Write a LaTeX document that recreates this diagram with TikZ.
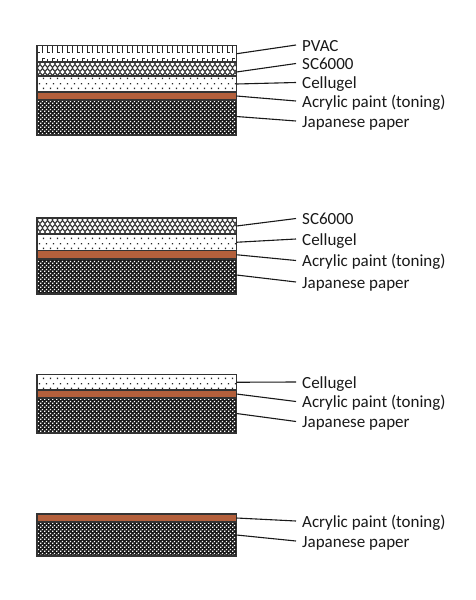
\documentclass[tikz,border=0pt]{standalone}
\usepackage{fontspec}
\setmainfont{Carlito}
\usetikzlibrary{patterns}

\pgfdeclarepatternformonly{pvacpat}{\pgfpoint{-0.5pt}{-0.5pt}}{\pgfpoint{10.5pt}{16.5pt}}{\pgfpoint{10pt}{16pt}}{%
  \pgfsetlinewidth{1pt}%
  \pgfpathmoveto{\pgfpoint{2pt}{3pt}}\pgfpathlineto{\pgfpoint{2pt}{13pt}}\pgfpathlineto{\pgfpoint{4.5pt}{13pt}}%
  \pgfpathmoveto{\pgfpoint{7pt}{13pt}}\pgfpathlineto{\pgfpoint{7pt}{3pt}}\pgfpathlineto{\pgfpoint{9.5pt}{3pt}}%
  \pgfusepath{stroke}}

\pgfdeclarepatternformonly{scpat}{\pgfpoint{-0.5pt}{-0.5pt}}{\pgfpoint{10.5pt}{8.5pt}}{\pgfpoint{10pt}{8pt}}{%
  \pgfsetlinewidth{1.1pt}%
  \pgfpathmoveto{\pgfpoint{0pt}{0.5pt}}\pgfpathlineto{\pgfpoint{2.5pt}{3.5pt}}\pgfpathlineto{\pgfpoint{5pt}{0.5pt}}\pgfpathlineto{\pgfpoint{7.5pt}{3.5pt}}\pgfpathlineto{\pgfpoint{10pt}{0.5pt}}%
  \pgfpathmoveto{\pgfpoint{0pt}{7.5pt}}\pgfpathlineto{\pgfpoint{2.5pt}{4.5pt}}\pgfpathlineto{\pgfpoint{5pt}{7.5pt}}\pgfpathlineto{\pgfpoint{7.5pt}{4.5pt}}\pgfpathlineto{\pgfpoint{10pt}{7.5pt}}%
  \pgfusepath{stroke}}

\pgfdeclarepatternformonly{celpat}{\pgfpointorigin}{\pgfpoint{7pt}{10pt}}{\pgfpoint{7pt}{10pt}}{%
  \pgfpathrectangle{\pgfpoint{1pt}{1pt}}{\pgfpoint{1.4pt}{1.4pt}}%
  \pgfpathrectangle{\pgfpoint{4.5pt}{6pt}}{\pgfpoint{1.4pt}{1.4pt}}%
  \pgfusepath{fill}}

\pgfdeclarepatternformonly{jppat}{\pgfpointorigin}{\pgfpoint{4pt}{4pt}}{\pgfpoint{4pt}{4pt}}{%
  \pgfpathrectangle{\pgfpoint{0.2pt}{0.2pt}}{\pgfpoint{1.6pt}{1.6pt}}%
  \pgfpathrectangle{\pgfpoint{2.2pt}{2.2pt}}{\pgfpoint{1.6pt}{1.6pt}}%
  \pgfusepath{fill}}

\definecolor{acrylic}{RGB}{180,96,60}

\tikzset{
  layer/.style={rectangle, draw=black!80, line width=1.2pt, minimum width=199.5pt, inner sep=0pt, outer sep=0pt},
  pvac/.style={layer, preaction={fill=white}, pattern=pvacpat, pattern color=black!85},
  sclayer/.style={layer, preaction={fill=white}, pattern=scpat, pattern color=black!80},
  cellayer/.style={layer, preaction={fill=white}, pattern=celpat, pattern color=black!85},
  acrlayer/.style={layer, fill=acrylic},
  jplayer/.style={layer, preaction={fill=black!90}, pattern=jppat, pattern color=white},
  lbl/.style={anchor=west, inner xsep=6pt, inner ysep=0pt, font=\fontsize{17}{20}\selectfont, text height=12pt, text depth=0pt, text=black!90},
  leader/.style={line width=1.1pt, draw=black!90}
}

\begin{document}
\begin{tikzpicture}[x=1pt, y=-1pt]
\fill[white] (0,0) rectangle (476,600);
\useasboundingbox (0,0) rectangle (476,600);

% Diagram 1
\node[pvac, minimum height=16.5pt] (d1pvac) at (136.75,53.75) {};
\node[sclayer, minimum height=14pt] (d1sc) at (136.75,69) {};
\node[cellayer, minimum height=16pt] (d1cel) at (136.75,84) {};
\node[jplayer, minimum height=35pt] (d1jp) at (136.75,117.5) {};
\node[acrlayer, minimum height=8pt] (d1acr) at (136.75,96) {};
\node[lbl] (l1pvac) at (296,45) {PVAC};
\node[lbl] (l1sc) at (296,63.5) {SC6000};
\node[lbl] (l1cel) at (296,82.5) {Cellugel};
\node[lbl] (l1acr) at (296,101) {Acrylic paint (toning)};
\node[lbl] (l1jp) at (296,121) {Japanese paper};
\draw[leader] (d1pvac.east) -- (l1pvac.west);
\draw[leader] ([yshift=-3pt]d1sc.east) -- (l1sc.west);
\draw[leader] (d1cel.east) -- (l1cel.west);
\draw[leader] (d1acr.east) -- (l1acr.west);
\draw[leader] ([yshift=1pt]d1jp.east) -- (l1jp.west);

% Diagram 2
\node[sclayer, minimum height=16pt] (d2sc) at (136.75,226) {};
\node[cellayer, minimum height=16.5pt] (d2cel) at (136.75,242.25) {};
\node[jplayer, minimum height=35pt] (d2jp) at (136.75,276.5) {};
\node[acrlayer, minimum height=8.5pt] (d2acr) at (136.75,254.75) {};
\node[lbl] (l2sc) at (296,218.5) {SC6000};
\node[lbl] (l2cel) at (296,239) {Cellugel};
\node[lbl] (l2acr) at (296,260.5) {Acrylic paint (toning)};
\node[lbl] (l2jp) at (296,282) {Japanese paper};
\draw[leader] (d2sc.east) -- (l2sc.west);
\draw[leader] (d2cel.east) -- (l2cel.west);
\draw[leader] (d2acr.east) -- (l2acr.west);
\draw[leader] ([yshift=1.5pt]d2jp.east) -- (l2jp.west);

% Diagram 3
\node[cellayer, minimum height=15.5pt] (d3cel) at (136.75,382.25) {};
\node[jplayer, minimum height=35pt] (d3jp) at (136.75,415.5) {};
\node[acrlayer, minimum height=8pt] (d3acr) at (136.75,394) {};
\node[lbl] (l3cel) at (296,382) {Cellugel};
\node[lbl] (l3acr) at (296,401.5) {Acrylic paint (toning)};
\node[lbl] (l3jp) at (296,421.5) {Japanese paper};
\draw[leader] (d3cel.east) -- (l3cel.west);
\draw[leader] (d3acr.east) -- (l3acr.west);
\draw[leader] ([yshift=2pt]d3jp.east) -- (l3jp.west);

% Diagram 4
\node[jplayer, minimum height=34pt] (d4jp) at (136.75,539) {};
\node[acrlayer, minimum height=8pt] (d4acr) at (136.75,518) {};
\node[lbl] (l4acr) at (296,521) {Acrylic paint (toning)};
\node[lbl] (l4jp) at (296,541) {Japanese paper};
\draw[leader] (d4acr.east) -- (l4acr.west);
\draw[leader] ([yshift=4pt]d4jp.east) -- (l4jp.west);
\end{tikzpicture}
\end{document}
